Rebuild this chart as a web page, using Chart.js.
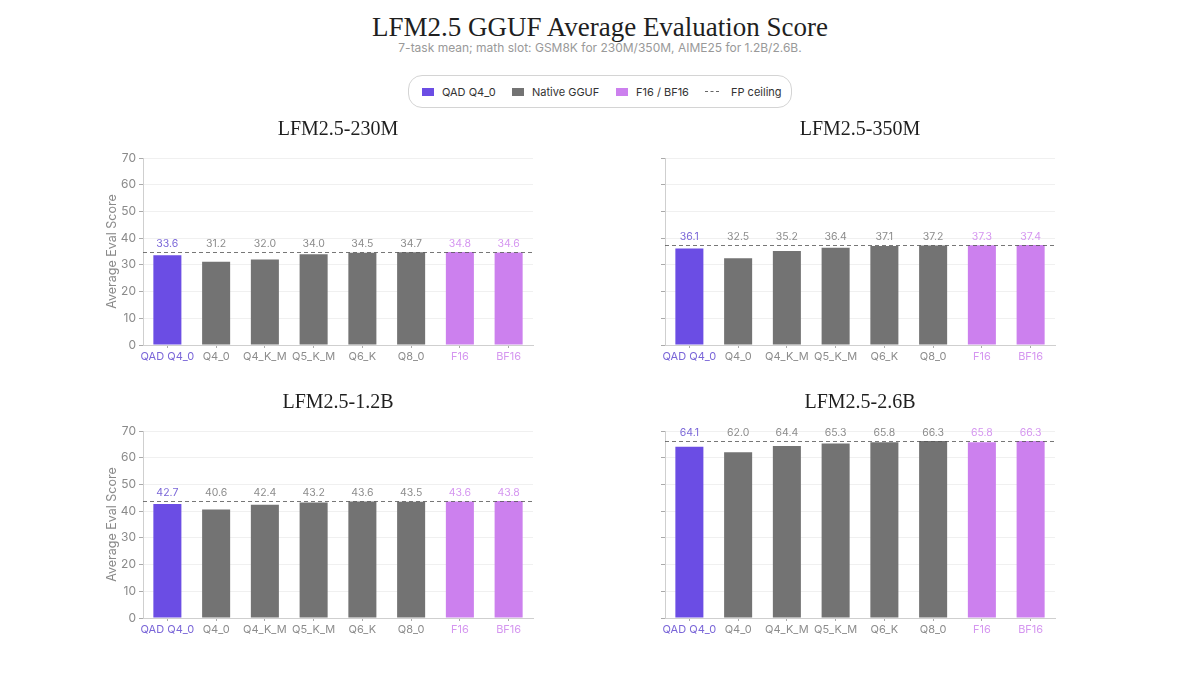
<!DOCTYPE html>
<html><head><meta charset="utf-8">
<script src="https://cdn.jsdelivr.net/npm/chart.js@4"></script>
<style>
body{margin:0;background:#fff;width:1200px;height:675px;position:relative;overflow:hidden;font-family:Inter,"Noto Sans",sans-serif}
#title{position:absolute;top:10px;left:0;width:1200px;text-align:center;font:27px "Liberation Serif",serif;color:#1f1f1f;line-height:34px}
#sub{position:absolute;top:40px;left:0;width:1200px;text-align:center;font:12px Inter,sans-serif;color:#999;line-height:16px}
#legend{position:absolute;left:408px;top:75px;width:384px;height:33px;border:1px solid #d4d4d4;border-radius:14px;box-sizing:border-box}
.li{position:absolute;top:0;height:31px;display:flex;align-items:center;font-size:11px;color:#333;white-space:nowrap}
.sw{display:inline-block;width:12px;height:8px;margin-right:8px}
.cv{position:absolute}
</style></head>
<body>
<div id="title">LFM2.5 GGUF Average Evaluation Score</div>
<div id="sub">7-task mean; math slot: GSM8K for 230M/350M, AIME25 for 1.2B/2.6B.</div>
<div id="legend"></div>
<canvas id="c0" class="cv" width="444" height="263" style="left:101px;top:112px"></canvas>
<canvas id="c1" class="cv" width="444" height="263" style="left:623px;top:112px"></canvas>
<canvas id="c2" class="cv" width="444" height="263" style="left:101px;top:385px"></canvas>
<canvas id="c3" class="cv" width="444" height="263" style="left:623px;top:385px"></canvas>
<script>
const categories=['QAD Q4_0','Q4_0','Q4_K_M','Q5_K_M','Q6_K','Q8_0','F16','BF16'];
const groups=['qad','native','native','native','native','native','fp','fp'];
const models=['LFM2.5-230M','LFM2.5-350M','LFM2.5-1.2B','LFM2.5-2.6B'];
const scores230M=[33.6,31.2,32.0,34.0,34.5,34.7,34.8,34.6];
const scores350M=[36.1,32.5,35.2,36.4,37.1,37.2,37.3,37.4];
const scores1_2B=[42.7,40.6,42.4,43.2,43.6,43.5,43.6,43.8];
const scores2_6B=[64.1,62.0,64.4,65.3,65.8,66.3,65.8,66.3];
const fpCeiling=[34.8,37.4,43.8,66.3];
const yMin=0, yMax=70, yStep=10;
const legendLabels=['QAD Q4_0','Native GGUF','F16 / BF16','FP ceiling'];

const barColor={qad:'#6b4de4',native:'#737373',fp:'#cc80ee'};
const textColor={qad:'#7a66d8',native:'#8c8c8c',fp:'#d596f0'};
const allScores=[scores230M,scores350M,scores1_2B,scores2_6B];

// legend
const lg=document.getElementById('legend');
const lgPos=[13,103,207,296];
const lgCol=[barColor.qad,barColor.native,barColor.fp,null];
legendLabels.forEach((t,i)=>{
  const d=document.createElement('div');d.className='li';d.style.left=lgPos[i]+'px';
  if(lgCol[i]){d.innerHTML='<span class="sw" style="background:'+lgCol[i]+'"></span>'+t;}
  else{d.innerHTML='<span style="display:inline-block;width:14px;border-top:1px dashed #666;margin-right:12px;"></span>'+t;}
  lg.appendChild(d);
});

const labelPlugin={
  id:'vals',
  afterDatasetsDraw(chart,args,opts){
    const ctx=chart.ctx, ys=chart.scales.y, ca=chart.chartArea;
    ctx.save();
    // panel title centred over plot area
    ctx.font='20px "Liberation Serif", serif';ctx.fillStyle='#1f1f1f';ctx.textAlign='center';ctx.textBaseline='middle';
    ctx.fillText(opts.title,(ca.left+ca.right)/2,18);
    // ceiling line
    const yy=Math.round(ys.getPixelForValue(opts.ceiling))+0.5;
    ctx.strokeStyle='rgba(85,85,85,0.8)';ctx.lineWidth=1;ctx.setLineDash([4,3]);
    ctx.beginPath();ctx.moveTo(ca.left,yy);ctx.lineTo(ca.right,yy);ctx.stroke();
    ctx.setLineDash([]);
    const meta=chart.getDatasetMeta(0);
    ctx.font='10.5px Inter, sans-serif';ctx.textAlign='center';ctx.textBaseline='bottom';
    meta.data.forEach((el,i)=>{
      const v=chart.data.datasets[0].data[i];
      ctx.fillStyle=textColor[groups[i]];
      ctx.fillText(v.toFixed(1),el.x,yy-3);
    });
    ctx.restore();
  }
};

allScores.forEach((vals,k)=>{
  const left=(k%2===0);
  new Chart(document.getElementById('c'+k),{
    type:'bar',
    data:{labels:categories,datasets:[{data:vals,backgroundColor:groups.map(g=>barColor[g]),barPercentage:0.575,categoryPercentage:1}]},
    options:{
      responsive:false,animation:false,devicePixelRatio:1,
      layout:{padding:{left:0,right:12,top:46,bottom:0}},
      plugins:{
        legend:{display:false},tooltip:{enabled:false},title:{display:false},
        vals:{ceiling:fpCeiling[k],title:models[k]}
      },
      scales:{
        x:{
          afterFit:s=>{s.height=30;},
          grid:{display:true,drawOnChartArea:false,offset:false,tickLength:3,tickColor:'#aaa'},
          border:{color:'#cfcfcf'},
          ticks:{padding:2,autoSkip:false,maxRotation:0,font:{family:'Inter, sans-serif',size:11},color:ctx=>textColor[groups[ctx.index]]}
        },
        y:{
          min:yMin,max:yMax,
          afterFit:s=>{s.width=42;},
          ticks:{stepSize:yStep,display:left,padding:3,color:'#8a8a8a',font:{family:'Inter, sans-serif',size:12}},
          grid:{color:'#f0f0f0',tickLength:4,tickColor:'#aaa'},
          border:{color:'#cfcfcf'},
          title:{display:left,text:'Average Eval Score',color:'#8a8a8a',font:{family:'Inter, sans-serif',size:12.5},padding:{top:4,bottom:4}}
        }
      }
    },
    plugins:[labelPlugin]
  });
});
</script>
</body></html>
